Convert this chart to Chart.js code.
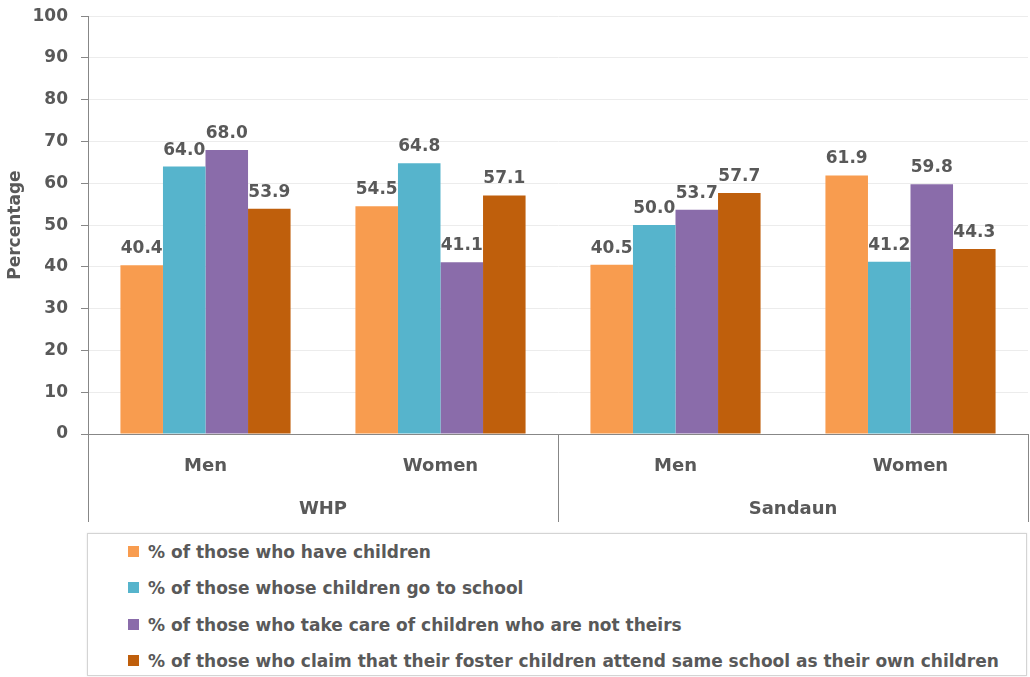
<!DOCTYPE html>
<html>
<head>
<meta charset="utf-8">
<script src="https://cdn.jsdelivr.net/npm/chart.js@4"></script>
<style>
  body { margin: 0; background: #fff; font-family: "DejaVu Sans", sans-serif; }
  #wrap { position: relative; width: 1030px; height: 677px; overflow: hidden; }
  #chartBox { position: absolute; left: 0; top: -7px; width: 1030px; height: 537px; }
  #legend {
    position: absolute; left: 87px; top: 533px; width: 938px; height: 141px;
    border: 1px solid #d4d4d4; box-shadow: 0 0 2px #e6e6e6;
  }
  .item { position: absolute; left: 40px; height: 20px; line-height: 20px;
    font-weight: bold; font-size: 17px; color: #595959; white-space: nowrap; }
  .item i { position: absolute; left: 0; top: 4px; width: 11px; height: 11px; }
  .item span { position: absolute; left: 20px; top: 0; }
</style>
</head>
<body>
<div id="wrap">
  <div id="chartBox"><canvas id="fosterChart"></canvas></div>
  <div id="legend"></div>
</div>
<script>
const categories = ["Men", "Women", "Men", "Women"];
const regions = ["WHP", "Sandaun"];
const seriesNames = [
  "% of those who have children",
  "% of those whose children go to school",
  "% of those who take care of children who are not theirs",
  "% of those who claim that their foster children attend same school as their own children"
];
const seriesColors = ["#f89c4f", "#56b4cc", "#8a6caa", "#bf5f0c"];
const haveChildren = [40.4, 54.5, 40.5, 61.9];
const goToSchool = [64.0, 64.8, 50.0, 41.2];
const careForOthers = [68.0, 41.1, 53.7, 59.8];
const sameSchool = [53.9, 57.1, 57.7, 44.3];
const yTicks = [0, 10, 20, 30, 40, 50, 60, 70, 80, 90, 100];

const textColor = "#595959";
const lineColor = "#878787";
const boldFont = { family: "DejaVu Sans", size: 17, weight: "bold" };

// value labels above each bar
const valueLabels = {
  id: "valueLabels",
  afterDatasetsDraw(chart) {
    const ctx = chart.ctx;
    ctx.save();
    ctx.font = "bold 17px 'DejaVu Sans'";
    ctx.fillStyle = textColor;
    ctx.textAlign = "center";
    ctx.textBaseline = "alphabetic";
    chart.data.datasets.forEach((ds, i) => {
      chart.getDatasetMeta(i).data.forEach((bar, j) => {
        ctx.fillText(ds.data[j].toFixed(1), bar.x, bar.y - 12);
      });
    });
    ctx.restore();
  }
};

// two-level category axis with divider lines
const groupAxis = {
  id: "groupAxis",
  afterDraw(chart) {
    const ctx = chart.ctx;
    const x = chart.scales.x;
    const area = chart.chartArea;
    const top = area.bottom;
    const bottom = top + 88;
    ctx.save();
    ctx.strokeStyle = lineColor;
    ctx.lineWidth = 1;
    [area.left, x.getPixelForValue(1.5), area.right].forEach(px => {
      const p = Math.round(px) + 0.5;
      ctx.beginPath();
      ctx.moveTo(p, top);
      ctx.lineTo(p, bottom);
      ctx.stroke();
    });
    ctx.font = "bold 18px 'DejaVu Sans'";
    ctx.fillStyle = textColor;
    ctx.textAlign = "center";
    ctx.textBaseline = "middle";
    categories.forEach((c, i) => {
      ctx.fillText(c, x.getPixelForValue(i), top + 32);
    });
    regions.forEach((r, i) => {
      ctx.fillText(r, x.getPixelForValue(i * 2 + 0.5), top + 75);
    });
    ctx.restore();
  }
};

new Chart(document.getElementById("fosterChart"), {
  type: "bar",
  data: {
    labels: categories,
    datasets: [haveChildren, goToSchool, careForOthers, sameSchool].map((d, i) => ({
      label: seriesNames[i],
      data: d,
      backgroundColor: seriesColors[i],
      categoryPercentage: 0.724,
      barPercentage: 1
    }))
  },
  options: {
    responsive: true,
    maintainAspectRatio: false,
    animation: false,
    layout: { padding: { top: 8, right: 2 } },
    plugins: {
      legend: { display: false },
      tooltip: { enabled: false }
    },
    scales: {
      x: {
        grid: { display: false },
        border: { color: lineColor },
        ticks: { display: false },
        afterFit(scale) { scale.height = 96; }
      },
      y: {
        min: 0,
        max: 100,
        afterBuildTicks(scale) { scale.ticks = yTicks.map(v => ({ value: v })); },
        ticks: { font: boldFont, color: textColor, padding: 13 },
        grid: { color: "#ececec", tickColor: lineColor, tickLength: 7 },
        border: { color: lineColor },
        title: {
          display: true,
          text: "Percentage",
          color: textColor,
          font: { family: "DejaVu Sans", size: 17, weight: "bold" },
          padding: { top: 5, bottom: 0 }
        },
        afterFit(scale) { scale.width = 88; }
      }
    }
  },
  plugins: [valueLabels, groupAxis]
});

const legendBox = document.getElementById("legend");
seriesNames.forEach((name, i) => {
  legendBox.innerHTML += `
    <div class="item" style="top:${8 + i * 36.3}px">
      <i style="background:${seriesColors[i]}"></i><span>${name}</span>
    </div>`;
});
</script>
</body>
</html>
